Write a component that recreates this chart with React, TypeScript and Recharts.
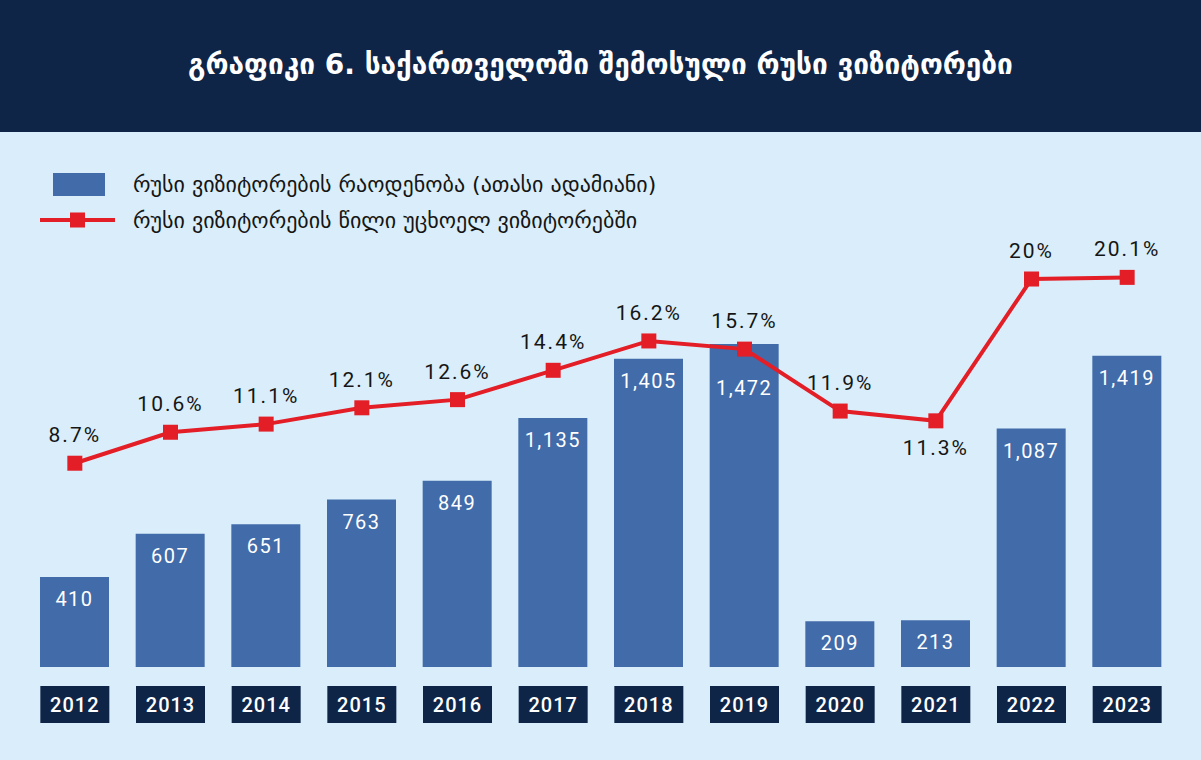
import React from "react";
import {
  ComposedChart,
  Bar,
  Line,
  XAxis,
  YAxis,
  LabelList,
} from "recharts";

const years = ["2012", "2013", "2014", "2015", "2016", "2017", "2018", "2019", "2020", "2021", "2022", "2023"];
const visitors = [410, 607, 651, 763, 849, 1135, 1405, 1472, 209, 213, 1087, 1419];
const sharePct = [8.7, 10.6, 11.1, 12.1, 12.6, 14.4, 16.2, 15.7, 11.9, 11.3, 20, 20.1];

const title = "გრაფიკი 6. საქართველოში შემოსული რუსი ვიზიტორები";
const legendBar = "რუსი ვიზიტორების რაოდენობა (ათასი ადამიანი)";
const legendLine = "რუსი ვიზიტორების წილი უცხოელ ვიზიტორებში";

// labels that sit lower / below to avoid the line
const barLabelLow = ["2019"];
const lineLabelBelow = ["2021"];

const NAVY = "#0f2548";
const BG = "#d9eefa";
const BLUE = "#426ba9";
const RED = "#e31e27";
const GEO = "'DejaVu Sans', sans-serif";
const NUM = "Roboto, 'DejaVu Sans', sans-serif";

const data = years.map((y, i) => ({ year: y, visitors: visitors[i], share: sharePct[i] }));

const YearTick = ({ x, y, payload }: any) => (
  <g>
    <rect x={x - 34.5} y={y + 19} width={69} height={37} fill={NAVY} />
    <text
      x={x}
      y={y + 38}
      textAnchor="middle"
      dominantBaseline="central"
      fill="#fff"
      fontFamily={NUM}
      fontSize={20}
      fontWeight={500}
      letterSpacing={1}
    >
      {payload.value}
    </text>
  </g>
);

const BarValue = (props: any) => {
  const { x, y, width, value, index } = props;
  const low = barLabelLow.includes(years[index]);
  return (
    <text
      x={x + width / 2}
      y={y + (low ? 44 : 22)}
      textAnchor="middle"
      dominantBaseline="central"
      fill="#fff"
      fontFamily={NUM}
      fontSize={20}
      letterSpacing={1.5}
    >
      {value.toLocaleString("en-US")}
    </text>
  );
};

const ShareValue = (props: any) => {
  const { x, y, value, index } = props;
  const below = lineLabelBelow.includes(years[index]);
  return (
    <text
      x={x}
      y={y + (below ? 27 : -28)}
      textAnchor="middle"
      dominantBaseline="central"
      fill="#151515"
      fontFamily={NUM}
      fontSize={21}
      letterSpacing={2}
    >
      {value}%
    </text>
  );
};

const SquareDot = ({ cx, cy }: any) => (
  <rect x={cx - 7.5} y={cy - 7.5} width={15} height={15} fill={RED} />
);

export default function App() {
  return (
    <div style={{ width: 1201, height: 760, background: BG, position: "relative", overflow: "hidden" }}>
      <style>{`body{margin:0}`}</style>
      <div
        style={{
          height: 132,
          background: NAVY,
          color: "#fff",
          display: "flex",
          alignItems: "center",
          justifyContent: "center",
          fontFamily: GEO,
          fontWeight: "bold",
          fontSize: 28,
          paddingBottom: 4,
          boxSizing: "border-box",
        }}
      >
        {title}
      </div>

      <div style={{ position: "absolute", left: 40, top: 166, fontFamily: GEO, fontSize: 22, color: "#151515" }}>
        <div style={{ display: "flex", alignItems: "center", height: 36 }}>
          <svg width={93} height={26}>
            <rect x={13} y={2} width={52} height={23} fill={BLUE} />
          </svg>
          <span>{legendBar}</span>
        </div>
        <div style={{ display: "flex", alignItems: "center", height: 36 }}>
          <svg width={93} height={26}>
            <line x1={0} y1={13} x2={75} y2={13} stroke={RED} strokeWidth={4} />
            <rect x={30} y={5.5} width={15} height={15} fill={RED} />
          </svg>
          <span>{legendLine}</span>
        </div>
      </div>

      <ComposedChart
        width={1201}
        height={628}
        data={data}
        margin={{ top: 65.5, right: 26, left: 27, bottom: 33 }}
        barCategoryGap={26.6}
      >
        <XAxis
          dataKey="year"
          axisLine={false}
          tickLine={false}
          tickSize={0}
          tickMargin={0}
          height={60}
          interval={0}
          tick={<YearTick />}
        />
        <YAxis yAxisId="left" hide domain={[0, 2140]} />
        <YAxis yAxisId="right" hide orientation="right" domain={[-3.8, 25]} />
        <Bar yAxisId="left" dataKey="visitors" fill={BLUE} barSize={69} isAnimationActive={false}>
          <LabelList dataKey="visitors" content={<BarValue />} />
        </Bar>
        <Line
          yAxisId="right"
          dataKey="share"
          stroke={RED}
          strokeWidth={4}
          dot={<SquareDot />}
          activeDot={false}
          isAnimationActive={false}
        >
          <LabelList dataKey="share" content={<ShareValue />} />
        </Line>
      </ComposedChart>
    </div>
  );
}
